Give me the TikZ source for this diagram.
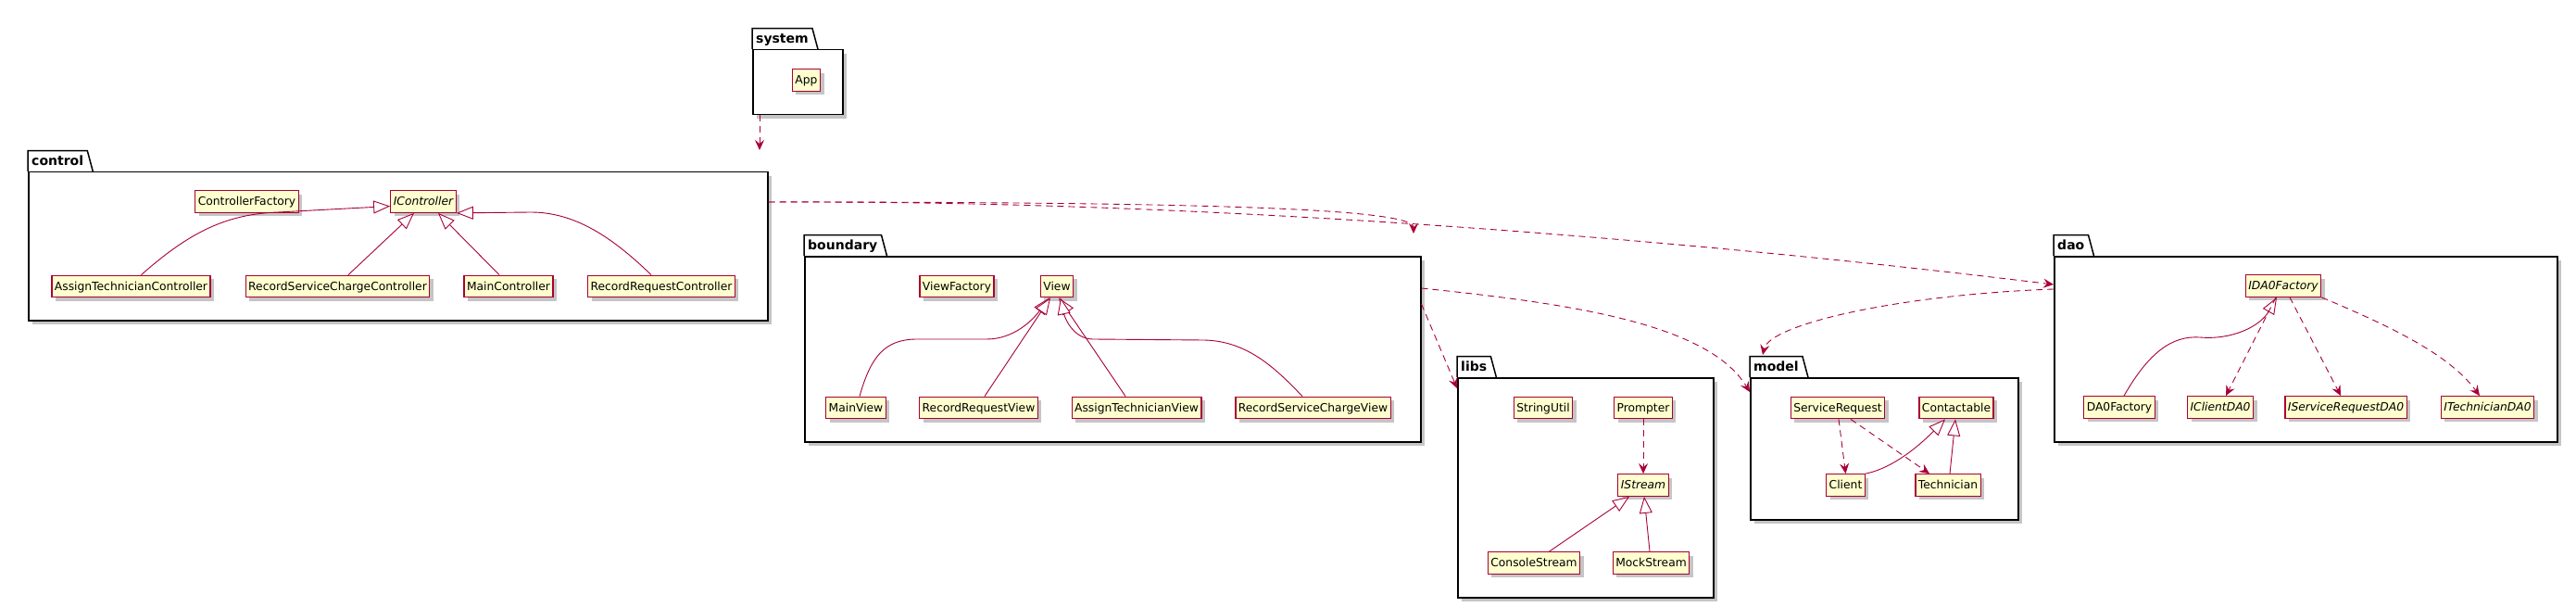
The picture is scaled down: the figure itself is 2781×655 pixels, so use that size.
\documentclass[tikz,border=0pt]{standalone}
\usepackage{fontspec}
\setmainfont{DejaVu Sans}
\usepackage{tikz}
\usetikzlibrary{arrows.meta,shadows,positioning}
\definecolor{umlred}{HTML}{A80036}
\definecolor{umlfill}{HTML}{FEFECE}
\tikzset{cls/.style={draw=umlred, fill=umlfill, line width=1.3pt, inner xsep=3pt, inner ysep=0pt, minimum height=23.5pt, text height=9.5pt, text depth=1pt, font=\fontsize{12.3}{14}\selectfont, drop shadow={shadow xshift=4pt, shadow yshift=-4pt, fill=black!45, opacity=0.5}}}
\tikzset{iface/.style={cls, font=\fontsize{12.3}{14}\selectfont\itshape}}
\tikzset{pkg/.style={draw=black, fill=white, line width=1.5pt, anchor=north west, inner sep=0pt, drop shadow={shadow xshift=4pt, shadow yshift=-4pt, fill=black!45, opacity=0.5}}}
\tikzset{pkgtab/.style={anchor=south west, inner xsep=4pt, inner ysep=0pt, minimum height=22pt, text height=10pt, text depth=1.4pt, font=\fontsize{14}{16}\selectfont\bfseries}}
\tikzset{pkgline/.style={line width=1.5pt}}
\tikzset{inh/.style={draw=umlred, line width=0.9pt, -{Triangle[open, length=18pt, width=14pt, fill=white]}}}
\tikzset{dep/.style={draw=umlred, line width=0.9pt, dash pattern=on 7pt off 5pt, -{Stealth[length=11pt, width=10pt, inset=4pt]}}}

\begin{document}
\begin{tikzpicture}[x=1pt, y=-1pt]
                \useasboundingbox (0,0) rectangle (2781,655);

                \node[pkg, minimum width=97pt, minimum height=70pt] (systempkg) at (812,53) {};
                \node[pkgtab] (systemtab) at (systempkg.north west) {system};
                \draw[pkgline] (systemtab.south west) |- (systemtab.north east) -- ([xshift=6pt]systemtab.south east);

                \node[pkg, minimum width=798pt, minimum height=160pt] (controlpkg) at (30,185) {};
                \node[pkgtab] (controltab) at (controlpkg.north west) {control};
                \draw[pkgline] (controltab.south west) |- (controltab.north east) -- ([xshift=6pt]controltab.south east);

                \node[pkg, minimum width=665pt, minimum height=200pt] (boundarypkg) at (868,276) {};
                \node[pkgtab] (boundarytab) at (boundarypkg.north west) {boundary};
                \draw[pkgline] (boundarytab.south west) |- (boundarytab.north east) -- ([xshift=6pt]boundarytab.south east);

                \node[pkg, minimum width=276pt, minimum height=237pt] (libspkg) at (1573,407) {};
                \node[pkgtab] (libstab) at (libspkg.north west) {libs};
                \draw[pkgline] (libstab.south west) |- (libstab.north east) -- ([xshift=6pt]libstab.south east);

                \node[pkg, minimum width=289pt, minimum height=153pt] (modelpkg) at (1889,407) {};
                \node[pkgtab] (modeltab) at (modelpkg.north west) {model};
                \draw[pkgline] (modeltab.south west) |- (modeltab.north east) -- ([xshift=6pt]modeltab.south east);

                \node[pkg, minimum width=543pt, minimum height=200pt] (daopkg) at (2217,276) {};
                \node[pkgtab] (daotab) at (daopkg.north west) {dao};
                \draw[pkgline] (daotab.south west) |- (daotab.north east) -- ([xshift=6pt]daotab.south east);

                \node[cls] (app) at (870.5,86.5) {App};

                \node[iface] (icontroller) at (457,217.5) {IController};
                \node[cls] (controllerfactory) [left of = icontroller, node distance=190.5pt] {ControllerFactory};
                \node[cls] (assigntechctrl) at (141.5,309) {AssignTechnicianController};
                \node[cls] (recservicectrl) [right of = assigntechctrl, node distance=223pt] {RecordServiceChargeController};
                \node[cls] (mainctrl) [right of = recservicectrl, node distance=184.5pt] {MainController};
                \node[cls] (recrequestctrl) [right of = mainctrl, node distance=165pt] {RecordRequestController};

                \node[cls] (view) at (1141,309) {View};
                \node[cls] (viewfactory) [left of = view, node distance=108pt] {ViewFactory};
                \node[cls] (mainview) at (924,440) {MainView};
                \node[cls] (recrequestview) [right of = mainview, node distance=132.5pt] {RecordRequestView};
                \node[cls] (assigntechview) [right of = recrequestview, node distance=170.5pt] {AssignTechnicianView};
                \node[cls] (recserviceview) [right of = assigntechview, node distance=190.5pt] {RecordServiceChargeView};

                \node[cls] (stringutil) at (1666,440) {StringUtil};
                \node[cls] (prompter) [right of = stringutil, node distance=108pt] {Prompter};
                \node[iface] (istream) [below of = prompter, node distance=83.5pt] {IStream};
                \node[cls] (consolestream) at (1656,607.5) {ConsoleStream};
                \node[cls] (mockstream) [right of = consolestream, node distance=126.5pt] {MockStream};

                \node[cls] (servicerequest) at (1984,440) {ServiceRequest};
                \node[cls] (contactable) [right of = servicerequest, node distance=128pt] {Contactable};
                \node[cls] (client) at (1992.5,523.5) {Client};
                \node[cls] (technician) [right of = client, node distance=110.5pt] {Technician};

                \node[iface] (idaofactory) at (2465,308.5) {IDA0Factory};
                \node[cls] (daofactory) at (2288,439.5) {DA0Factory};
                \node[iface] (iclientdao) [right of = daofactory, node distance=109pt] {IClientDA0};
                \node[iface] (iservicedao) [right of = iclientdao, node distance=135.5pt] {IServiceRequestDA0};
                \node[iface] (itechdao) [right of = iservicedao, node distance=153pt] {ITechnicianDA0};

                \coordinate (controlin) at (820,162);
                \coordinate (boundaryin) at (1526,252);
                \coordinate (daoin) at ([yshift=-31pt]daopkg.north west);
                \coordinate (libsin) at ([yshift=-12pt]libspkg.north west);
                \coordinate (modelin) at ([yshift=-16pt]modelpkg.north west);
                \coordinate (modeltop) at (1903,383);

                \draw[dep] ([xshift=8pt]systempkg.south west) -- (controlin);
                \draw[dep] ([yshift=-33pt]controlpkg.north east) .. controls (1300,218) and (1526,225) .. (boundaryin);
                \draw[dep] ([yshift=-33pt]controlpkg.north east) .. controls (1250,216) and (1750,250) .. (daoin);
                \draw[dep] ([yshift=-52pt]boundarypkg.north east) -- (libsin);
                \draw[dep] ([yshift=-35pt]boundarypkg.north east) .. controls (1700,328) and (1845,350) .. (modelin);
                \draw[dep] ([yshift=-36pt]daopkg.north west) .. controls (2050,318) and (1910,350) .. (modeltop);

                \draw[inh] ([xshift=11pt]assigntechctrl.north) .. controls (205,250) and (245,231) .. (300,229) -- ([yshift=-5pt]icontroller.west);
                \draw[inh] ([xshift=11.5pt]recservicectrl.north) -- ([xshift=-10pt]icontroller.south);
                \draw[inh] ([xshift=-10pt]mainctrl.north) -- ([xshift=16pt]icontroller.south);
                \draw[inh] ([xshift=-11pt]recrequestctrl.north) .. controls (660,255) and (620,229) .. (573,229) -- (icontroller.south east);

                \draw[inh] ([xshift=4pt]mainview.north) .. controls (940,385) and (955,366) .. (990,366) -- (1065,366) .. controls (1095,366) and (1115,345) .. ([xshift=-8pt]view.south);
                \draw[inh] ([xshift=6.5pt]recrequestview.north) -- ([xshift=-7pt]view.south);
                \draw[inh] ([xshift=-12pt]assigntechview.north) -- ([xshift=2pt]view.south);
                \draw[inh] ([xshift=-11.5pt]recserviceview.north) .. controls (1375,395) and (1345,368) .. (1300,367) -- (1180,366) .. controls (1160,366) and (1150,345) .. ([xshift=4pt]view.south);

                \draw[dep] (prompter) -- (istream);
                \draw[inh] ([xshift=16.5pt]consolestream.north) -- ([xshift=-15pt]istream.south);
                \draw[inh] ([xshift=-1.5pt]mockstream.north) -- ([xshift=1pt]istream.south);

                \draw[dep] ([xshift=1pt]servicerequest.south) -- (client.north);
                \draw[dep] ([xshift=14pt]servicerequest.south) -- ([xshift=-20pt]technician.north);
                \draw[inh] (client.north east) .. controls (2045,505) and (2075,478) .. ([xshift=-12pt]contactable.south);
                \draw[inh] ([xshift=2pt]technician.north) -- ([xshift=-1pt]contactable.south);

                \draw[inh] ([xshift=5pt]daofactory.north) .. controls (2320,380) and (2345,362) .. (2375,364) .. controls (2410,367) and (2440,352) .. ([xshift=-7pt]idaofactory.south);
                \draw[dep] ([xshift=-8pt]idaofactory.south) -- ([xshift=6pt]iclientdao.north);
                \draw[dep] ([xshift=7pt]idaofactory.south) -- ([xshift=-5.5pt]iservicedao.north);
                \draw[dep] (idaofactory.south east) .. controls (2600,360) and (2648,388) .. ([xshift=-8.5pt]itechdao.north);
\end{tikzpicture}
\end{document}
